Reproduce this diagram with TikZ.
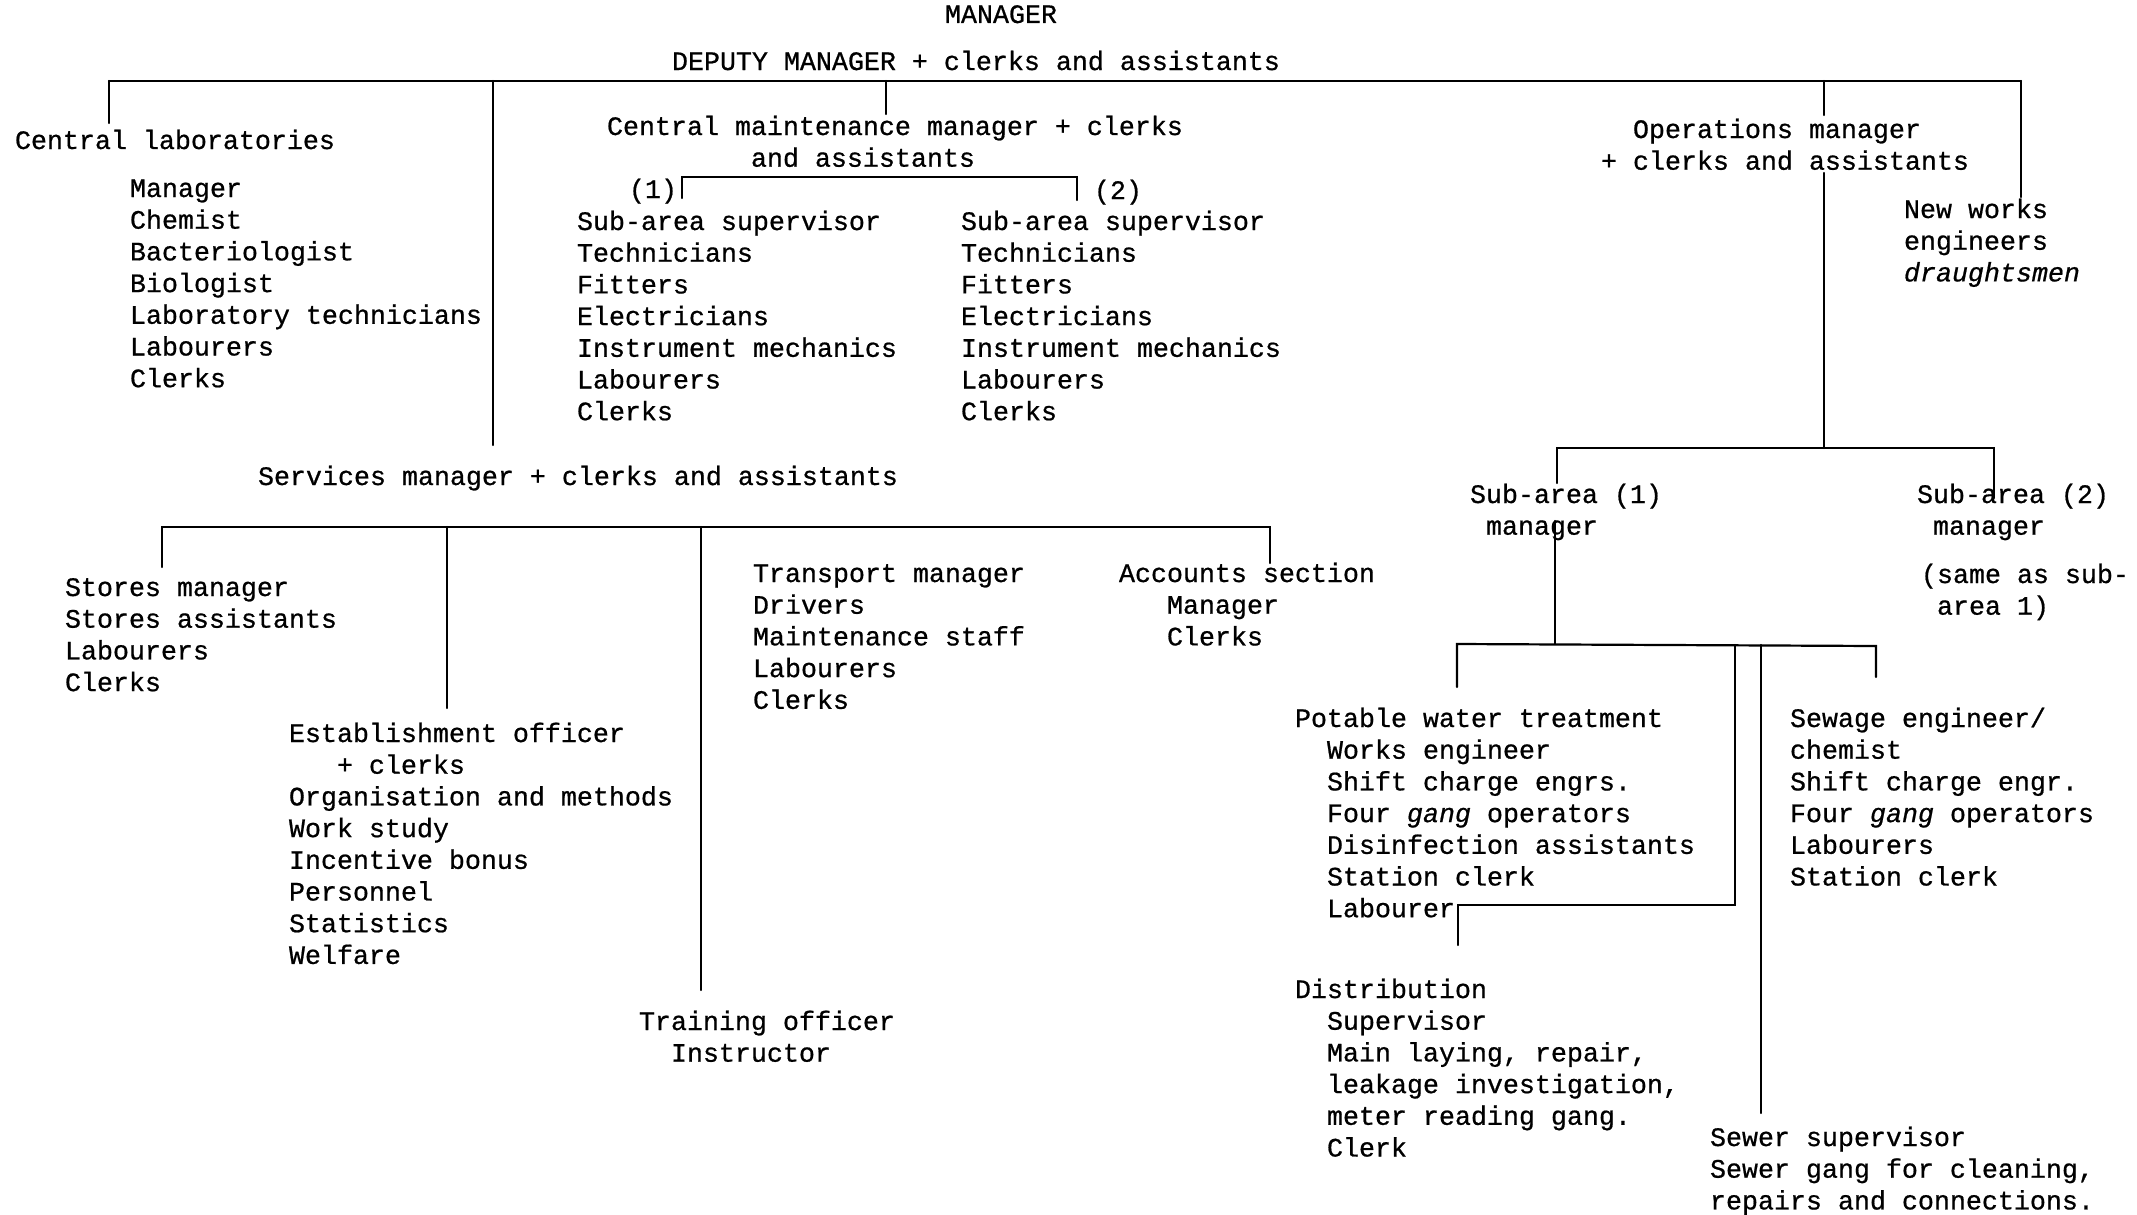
\documentclass[tikz,border=0pt]{standalone}
\usepackage{fontspec}
\setmainfont{Liberation Mono}[FakeBold=0.7]
\begin{document}
\begin{tikzpicture}[x=0.5pt,y=-0.5pt]
\tikzset{
  txt/.style={anchor=base west, inner sep=0pt, outer sep=0pt, align=left,
              font=\fontsize{13.33pt}{15.85pt}\selectfont},
  conn/.style={line width=1.1pt, line cap=round, line join=miter}
}
\fill[white] (0,0) rectangle (2137,1215);
\useasboundingbox (0,0) rectangle (2137,1215);

% ---- text nodes (anchor = baseline of the last line) ----
\node[txt] (mgr) at (945,23) {MANAGER};
\node[txt] (dep) at (672,70) {DEPUTY MANAGER + clerks and assistants};
\node[txt] (clab) at (15,149) {Central laboratories};
\node[txt] (clabl) at (130,387.2) {Manager\\Chemist\\Bacteriologist\\Biologist\\Laboratory technicians\\Labourers\\Clerks};
\node[txt] (cmm) at (607,166.7) {Central maintenance manager + clerks\\\phantom{xxxxxxxxx}and assistants};
\node[txt] (n1) at (629,198) {(1)};
\node[txt] (cma) at (577,420.2) {Sub-area supervisor\\Technicians\\Fitters\\Electricians\\Instrument mechanics\\Labourers\\Clerks};
\node[txt] (n2) at (1094,199) {(2)};
\node[txt] (cmb) at (961,420.2) {Sub-area supervisor\\Technicians\\Fitters\\Electricians\\Instrument mechanics\\Labourers\\Clerks};
\node[txt] (ops) at (1601,169.7) {\phantom{xx}Operations manager\\+ clerks and assistants};
\node[txt] (nw) at (1904,281.4) {New works\\engineers\\\textit{draughtsmen}};
\node[txt] (svc) at (258,485) {Services manager + clerks and assistants};
\node[txt] (stores) at (65,691.1) {Stores manager\\Stores assistants\\Labourers\\Clerks};
\node[txt] (est) at (289,963.9) {Establishment officer\\\phantom{xxx}+ clerks\\Organisation and methods\\Work study\\Incentive bonus\\Personnel\\Statistics\\Welfare};
\node[txt] (trans) at (753,708.8) {Transport manager\\Drivers\\Maintenance staff\\Labourers\\Clerks};
\node[txt] (train) at (639,1061.7) {Training officer\\\phantom{xx}Instructor};
\node[txt] (acc) at (1119,645.4) {Accounts section\\\phantom{xxx}Manager\\\phantom{xxx}Clerks};
\node[txt] (sa1) at (1470,534.7) {Sub-area (1)\\\phantom{x}manager};
\node[txt] (sa2) at (1917,534.7) {Sub-area (2)\\\phantom{x}manager};
\node[txt] (same) at (1921,614.7) {(same as sub-\\\phantom{x}area 1)};
\node[txt] (pot) at (1295,917.2) {Potable water treatment\\\phantom{xx}Works engineer\\\phantom{xx}Shift charge engrs.\\\phantom{xx}Four \textit{gang} operators\\\phantom{xx}Disinfection assistants\\\phantom{xx}Station clerk\\\phantom{xx}Labourer};
\node[txt] (sew) at (1790,885.5) {Sewage engineer/\\chemist\\Shift charge engr.\\Four \textit{gang} operators\\Labourers\\Station clerk};
\node[txt] (dist) at (1295,1156.5) {Distribution\\\phantom{xx}Supervisor\\\phantom{xx}Main laying, repair,\\\phantom{xx}leakage investigation,\\\phantom{xx}meter reading gang.\\\phantom{xx}Clerk};
\node[txt] (sewer) at (1710,1209.4) {Sewer supervisor\\Sewer gang for cleaning,\\repairs and connections.};

% ---- junction coordinates ----
\coordinate (tL) at (109,81);
\coordinate (tR) at (2021,81);
\coordinate (tM) at (493,81);
\coordinate (tC) at (886,81);
\coordinate (tO) at (1824,81);
\coordinate (clabTop) at (109,123);
\coordinate (mainEnd) at (493,445);
\coordinate (cmmTop) at (886,114);
\coordinate (brL) at (682,177);
\coordinate (brR) at (1077,177);
\coordinate (brLe) at (682,198);
\coordinate (brRe) at (1077,200);
\coordinate (opsTop) at (1824,115);
\coordinate (opsLow) at (1824,173);
\coordinate (nwTop) at (2021,197);
\coordinate (saL) at (1557,448);
\coordinate (saM) at (1824,448);
\coordinate (saR) at (1994,448);
\coordinate (saLe) at (1557,483);
\coordinate (saRe) at (1994,498);
\coordinate (sa1Low) at (1555,521);
\coordinate (lbM) at (1555,644);
\coordinate (lbL) at (1457,644);
\coordinate (lbR) at (1876,646);
\coordinate (lbLe) at (1457,687);
\coordinate (lbRe) at (1876,677);
\coordinate (dvA) at (1735,645);
\coordinate (dvAb) at (1735,905);
\coordinate (dvAc) at (1458,905);
\coordinate (dvAe) at (1458,945);
\coordinate (dvB) at (1761,645);
\coordinate (dvBe) at (1761,1113);
\coordinate (sbL) at (162,527);
\coordinate (sbR) at (1270,527);
\coordinate (sbLe) at (162,567);
\coordinate (sbRe) at (1270,563);
\coordinate (sb2) at (447,527);
\coordinate (sb2e) at (447,708);
\coordinate (sb3) at (701,527);
\coordinate (sb3e) at (701,990);

% ---- connectors ----
\draw[conn] (tL) -- (tR);
\draw[conn] (tL) -- (clabTop);
\draw[conn] (tM) -- (mainEnd);
\draw[conn] (tC) -- (cmmTop);
\draw[conn] (brLe) -- (brL) -- (brR) -- (brRe);
\draw[conn] (tO) -- (opsTop);
\draw[conn] (opsLow) -- (saM);
\draw[conn] (tR) -- (nwTop);
\draw[conn] (saLe) -- (saL) -- (saR) -- (saRe);
\draw[conn] (sa1Low) -- (lbM);
\draw[conn] (lbLe) -- (lbL) -- (lbR) -- (lbRe);
\draw[conn] (dvA) -- (dvAb) -- (dvAc) -- (dvAe);
\draw[conn] (dvB) -- (dvBe);
\draw[conn] (sbLe) -- (sbL) -- (sbR) -- (sbRe);
\draw[conn] (sb2) -- (sb2e);
\draw[conn] (sb3) -- (sb3e);
\end{tikzpicture}
\end{document}
